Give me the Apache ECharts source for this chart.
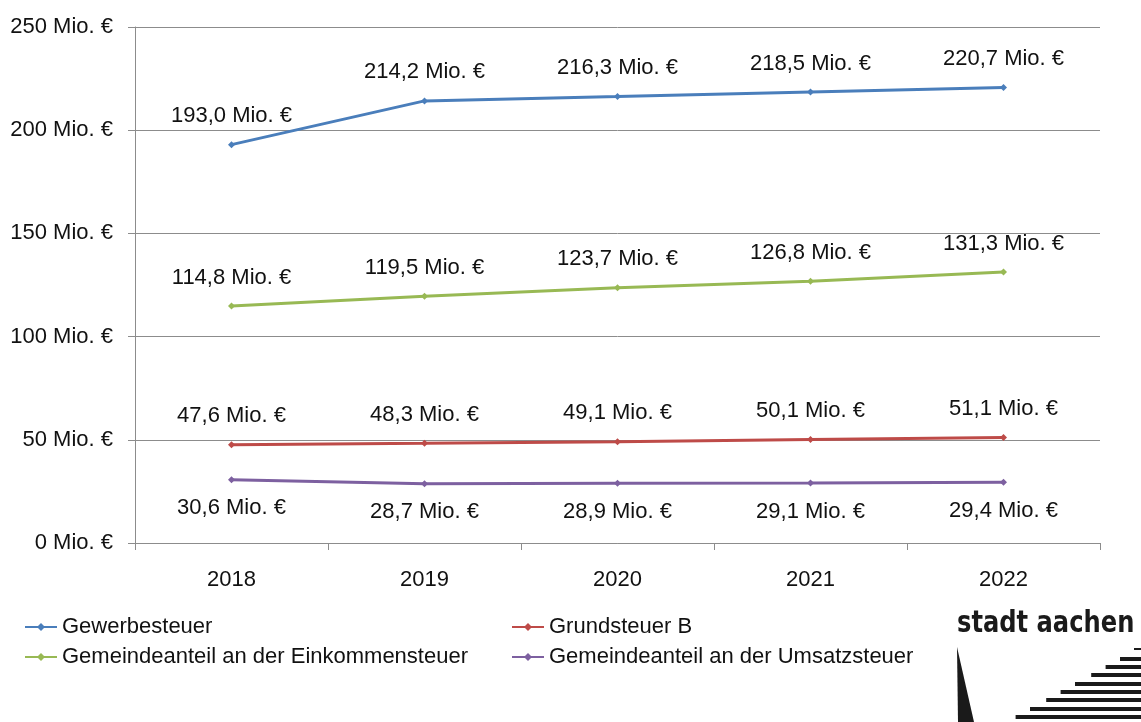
<!DOCTYPE html>
<html><head><meta charset="utf-8">
<script src="https://cdn.jsdelivr.net/npm/echarts@6/dist/echarts.min.js"></script>
<style>html,body{margin:0;padding:0;background:#fff}#c{width:1141px;height:722px}</style>
</head><body><div id="c"></div>
<script>
const years = ['2018','2019','2020','2021','2022'];
const gewerbe = [193.0, 214.2, 216.3, 218.5, 220.7];
const grundsteuerB = [47.6, 48.3, 49.1, 50.1, 51.1];
const einkommen = [114.8, 119.5, 123.7, 126.8, 131.3];
const umsatz = [30.6, 28.7, 28.9, 29.1, 29.4];
const seriesNames = ['Gewerbesteuer','Grundsteuer B','Gemeindeanteil an der Einkommensteuer','Gemeindeanteil an der Umsatzsteuer'];
const yTicks = {min:0, max:250, interval:50};

const FONT = 'Liberation Sans, Arial, sans-serif';
const fmt = v => v.toFixed(1).replace('.', ',') + ' Mio. €';

function mk(name, data, color, pos) {
  return {
    name, type:'line', data, symbol:'diamond', symbolSize:7,
    lineStyle:{color, width:3}, itemStyle:{color},
    label:{show:true, position:pos, distance:14, color:'#111', fontFamily:FONT, fontSize:22,
      formatter:p=>fmt(p.value)},
    emphasis:{disabled:true}
  };
}

const chart = echarts.init(document.getElementById('c'), null, {renderer:'canvas'});

// logo stripes
const stripes = [];
const stripeYs = [648, 657, 665, 673, 682, 690, 698, 707, 715];
stripeYs.forEach(y => {
  const left = Math.min(1120 - (y - 657) * 1.8, 1134);
  stripes.push({type:'rect', shape:{x:left, y:y, width:1141-left, height:y===648?2:4}, style:{fill:'#1a1a1a'}});
});

chart.setOption({
  animation:false,
  textStyle:{fontFamily:FONT},
  grid:{left:135, right:41, top:27, bottom:179, containLabel:false},
  xAxis:{type:'category', data:years, boundaryGap:true,
    axisLine:{lineStyle:{color:'#8c8c8c', width:1}},
    axisTick:{show:true, length:7, inside:false, lineStyle:{color:'#8c8c8c'}},
    axisLabel:{color:'#111', fontSize:22, fontFamily:FONT, margin:26}},
  yAxis:{type:'value', min:yTicks.min, max:yTicks.max, interval:yTicks.interval,
    axisLine:{show:true, lineStyle:{color:'#8c8c8c', width:1}},
    axisTick:{show:true, length:7, lineStyle:{color:'#8c8c8c'}},
    splitLine:{show:true, lineStyle:{color:'#8c8c8c', width:1}},
    axisLabel:{color:'#111', fontSize:22, fontFamily:FONT, margin:22, formatter:'{value} Mio. €'}},
  legend:[
    {orient:'vertical', left:19, top:611, itemWidth:32, itemHeight:10, itemGap:8,
     data:[seriesNames[0], seriesNames[2]], textStyle:{color:'#111', fontSize:22, fontFamily:FONT}},
    {orient:'vertical', left:506, top:611, itemWidth:32, itemHeight:10, itemGap:8,
     data:[seriesNames[1], seriesNames[3]], textStyle:{color:'#111', fontSize:22, fontFamily:FONT}}
  ],
  series:[
    mk(seriesNames[0], gewerbe, '#4a7ebb', 'top'),
    mk(seriesNames[1], grundsteuerB, '#be4b48', 'top'),
    mk(seriesNames[2], einkommen, '#98b954', 'top'),
    mk(seriesNames[3], umsatz, '#7d60a0', 'bottom')
  ],
  graphic:[
    {type:'text', x:957, y:608, scaleX:0.78, style:{text:'stadt aachen', fill:'#1a1a1a', font:'bold 31px "DejaVu Sans", sans-serif'}},
    {type:'polygon', shape:{points:[[957,647],[958,722],[974,722]]}, style:{fill:'#1a1a1a'}},
    ...stripes
  ]
});
</script></body></html>
